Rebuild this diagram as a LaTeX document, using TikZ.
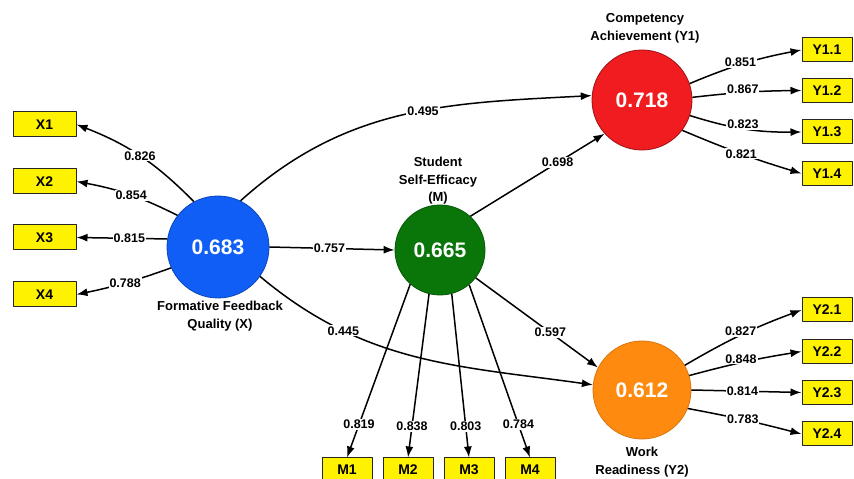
\documentclass[tikz,border=0pt]{standalone}
\usepackage{fontspec}
\setmainfont{Liberation Sans}
\usetikzlibrary{arrows.meta}
\definecolor{xblue}{RGB}{16,94,245}
\definecolor{mgreen}{RGB}{10,118,10}
\definecolor{yred}{RGB}{240,28,32}
\definecolor{yorange}{RGB}{255,138,16}
\definecolor{boxyellow}{RGB}{255,242,0}
\begin{document}
\begin{tikzpicture}[x=1pt,y=1pt,>={Latex[length=11pt,width=8pt]},line join=round,
	lv/.style={circle,inner sep=0pt,line width=0.8pt,text=white,font=\fontsize{21}{22}\selectfont\bfseries},
	ind/.style={draw=black!85,line width=1pt,fill=boxyellow,minimum width=50pt,minimum height=24pt,inner sep=0pt,font=\fontsize{14}{15}\selectfont\bfseries},
	lab/.style={fill=white,inner sep=1pt,font=\fontsize{12.5}{14}\selectfont\bfseries},
	title/.style={align=center,font=\fontsize{13}{17.5}\selectfont\bfseries},
	link/.style={->,line width=1.5pt}]
	\useasboundingbox[fill=white] (0,0) rectangle (854,479);
	% latent variables
	\node[lv,fill=xblue,draw=xblue!75!black,minimum size=102pt] (X) at (218,232) {0.683};
	\node[lv,fill=mgreen,draw=mgreen!75!black,minimum size=90pt] (M) at (440,229) {0.665};
	\node[lv,fill=yred,draw=yred!65!black,minimum size=100pt] (Y1) at (642,379) {0.718};
	\node[lv,fill=yorange,draw=yorange!85!black,minimum size=98pt] (Y2) at (642,89) {0.612};
	\node[title] at (220,163) {Formative Feedback\\Quality (X)};
	\node[title] at (438,298) {Student\\Self-Efficacy\\(M)};
	\node[title] at (645,450.5) {Competency\\Achievement (Y1)};
	\node[title] at (642,17) {Work\\Readiness (Y2)};
	% indicators
	\foreach \n/\y in {1/354.5,2/297.5,3/241.5,4/184.5}
	\node[ind,minimum width=63pt,minimum height=25pt] (X\n) at (44.5,\y) {X\n};
	\foreach \n/\y in {1/429,2/388.5,3/347,4/305.5}
	\node[ind] (Y1\n) at (827,\y) {Y1.\n};
	\foreach \n/\y in {1/169,2/127.5,3/86.5,4/45}
	\node[ind] (Y2\n) at (827,\y) {Y2.\n};
	\foreach \n/\x in {1/347,2/408,3/469,4/530}
	\node[ind] (M\n) at (\x,9) {M\n};
	% outer loadings
	\foreach \n/\ang/\b/\val/\p in {1/118/-12/0.826/.5,2/142/-8/0.854/.47,3/171/0/0.815/.41,4/204.5/4/0.788/.49}
	\draw[link] (X.\ang) to[bend left=\b] node[lab,pos=\p]{\val} (X\n.east);
	\foreach \n/\ang/\b/\val/\p/\s in {1/19.5/6/0.851/.46/2,2/3/3/0.867/.46/3,3/-18/-9/0.823/.48/4,4/-37/-3/0.821/.5/0}
	\draw[link] (Y1.\ang) to[bend left=\b] node[lab,pos=\p,yshift=\s]{\val} (Y1\n.west);
	\foreach \n/\ang/\b/\val/\p/\s in {1/30.6/5/0.827/.49/4,2/17/3/0.848/.46/4,3/0/0/0.814/.46/0,4/-22.6/2/0.783/.48/0}
	\draw[link] (Y2.\ang) to[bend left=\b] node[lab,pos=\p,yshift=\s]{\val} (Y2\n.west);
	\foreach \n/\ang/\val in {1/229.4/0.819,2/256.9/0.838,3/285.6/0.803,4/310.6/0.784}
	\draw[link] (M.\ang) -- node[lab,pos=.81]{\val} (M\n.north);
	% structural paths
	\draw[link] (X.east) -- node[lab,pos=.48]{0.757} (M.west);
	\draw[link] (X.64) to[out=42,in=183] node[lab,pos=.56]{0.495} (Y1.175);
	\draw[link] (X.-35) to[out=-40,in=172] node[lab,pos=.27]{0.445} (Y2.174);
	\draw[link] (M.48.6) -- node[lab,pos=.65]{0.698} (Y1.222.6);
	\draw[link] (M.-38.7) -- node[lab,pos=.61]{0.597} (Y2.153);
\end{tikzpicture}
\end{document}
